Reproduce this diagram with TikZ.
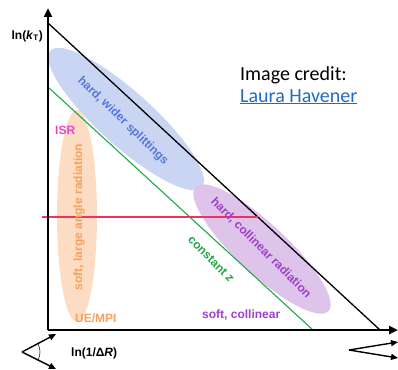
\documentclass[tikz,border=0pt]{standalone}
\usepackage{fontspec}
\setmainfont{Liberation Sans}
\newfontfamily\creditfont{Carlito}
\usetikzlibrary{arrows.meta,shapes.geometric}

\definecolor{hardblue}{HTML}{C9D5F2}
\definecolor{hardbluetext}{HTML}{5577DD}
\definecolor{collfill}{HTML}{DEC3EB}
\definecolor{colltext}{HTML}{A040C8}
\definecolor{isrfill}{HTML}{FCDDC4}
\definecolor{isrtext}{HTML}{F5A060}
\definecolor{isrlabel}{HTML}{F040D0}
\definecolor{cutred}{HTML}{F03060}
\definecolor{zgreen}{HTML}{20A848}
\definecolor{linkblue}{HTML}{1F6BC6}

\tikzset{
  region/.style={ellipse, inner sep=0pt, draw=none},
  lab/.style={font=\bfseries\fontsize{12}{14}\selectfont, inner sep=0pt},
  axis/.style={line width=2.4pt, -{Triangle[length=9pt,width=8pt]}},
  sym/.style={line width=1.4pt, -{Triangle[length=7pt,width=6pt]}},
}

\begin{document}
\begin{tikzpicture}[x=1pt, y=-1pt]
  \useasboundingbox (0,0) rectangle (398,369);

  % shaded regions of the Lund plane
  \node[region, fill=hardblue, minimum width=204pt, minimum height=54pt, rotate=-42]
    (wide) at (126,119) {};
  \node[region, fill=collfill, minimum width=182pt, minimum height=50pt, rotate=-43]
    (coll) at (262,249) {};
  \node[region, fill=isrfill, minimum width=40pt, minimum height=212pt]
    (ue) at (77,216) {};

  % key points
  \coordinate (O) at (48,330);
  \coordinate (ytop) at (48,8);
  \coordinate (xend) at (398,330);
  \coordinate (dtop) at (48,23);
  \coordinate (dbot) at (380,330);
  \coordinate (ztop) at (48,87);
  \coordinate (zbot) at (313,330);
  \coordinate (cutL) at (42,217);
  \coordinate (cutR) at (258,217);

  % kinematic limit, constant z and the cut line
  \draw[line width=1.3pt] (dtop) -- (dbot);
  \draw[zgreen, line width=1.1pt] (ztop) -- (zbot);
  \draw[cutred, line width=1.3pt] (cutL) -- (cutR);

  % axes
  \draw[axis] (O) -- (ytop);
  \draw[axis] (O) -- (xend);

  % axis labels
  \node[lab, anchor=east] (ylab) at (43,36) {ln(\textit{k}\textsubscript{T})};
  \node[lab, anchor=west] (xlab) at (71,353) {ln(1/Δ\textit{R})};

  % region labels
  \node[lab, text=hardbluetext, rotate=-44] (twide) at (123,121) {hard, wider splittings};
  \node[lab, text=colltext, rotate=-45] (tcoll) at (261,248) {hard, collinear radiation};
  \node[lab, text=zgreen, rotate=-45] (tz) at (211,259) {constant \textit{z}};
  \node[lab, text=isrtext, rotate=90] (tue) at (79,217) {soft, large angle radiation};
  \node[lab, text=isrtext, anchor=west] (tmpi) at (75,318) {UE/MPI};
  \node[lab, text=isrlabel, anchor=west] (tisr) at (55,130) {ISR};
  \node[lab, text=colltext, anchor=west] (tsoft) at (202,315) {soft, collinear};

  % opening-angle sketches
  \coordinate (vL) at (22,352);
  \coordinate (aL1) at (56,334);
  \coordinate (aL2) at (56,369);
  \draw[sym] (vL) -- (aL1);
  \draw[sym] (vL) -- (aL2);
  \draw[line width=0.5pt] ([shift={(-28:18)}]vL) arc[start angle=-28, end angle=28, radius=18];

  \coordinate (vR) at (349,350);
  \coordinate (aR1) at (398,342);
  \coordinate (aR2) at (398,358);
  \draw[sym] (vR) -- (aR1);
  \draw[sym] (vR) -- (aR2);

  % credit
  \node[anchor=base west, inner sep=0pt, font=\creditfont\fontsize{20}{24}\selectfont]
    (credit) at (240,80) {Image credit:};
  \node[anchor=base west, inner sep=0pt, text=linkblue,
        font=\creditfont\fontsize{20}{24}\selectfont]
    (author) at (240,102) {\underline{Laura Havener}};
\end{tikzpicture}
\end{document}
